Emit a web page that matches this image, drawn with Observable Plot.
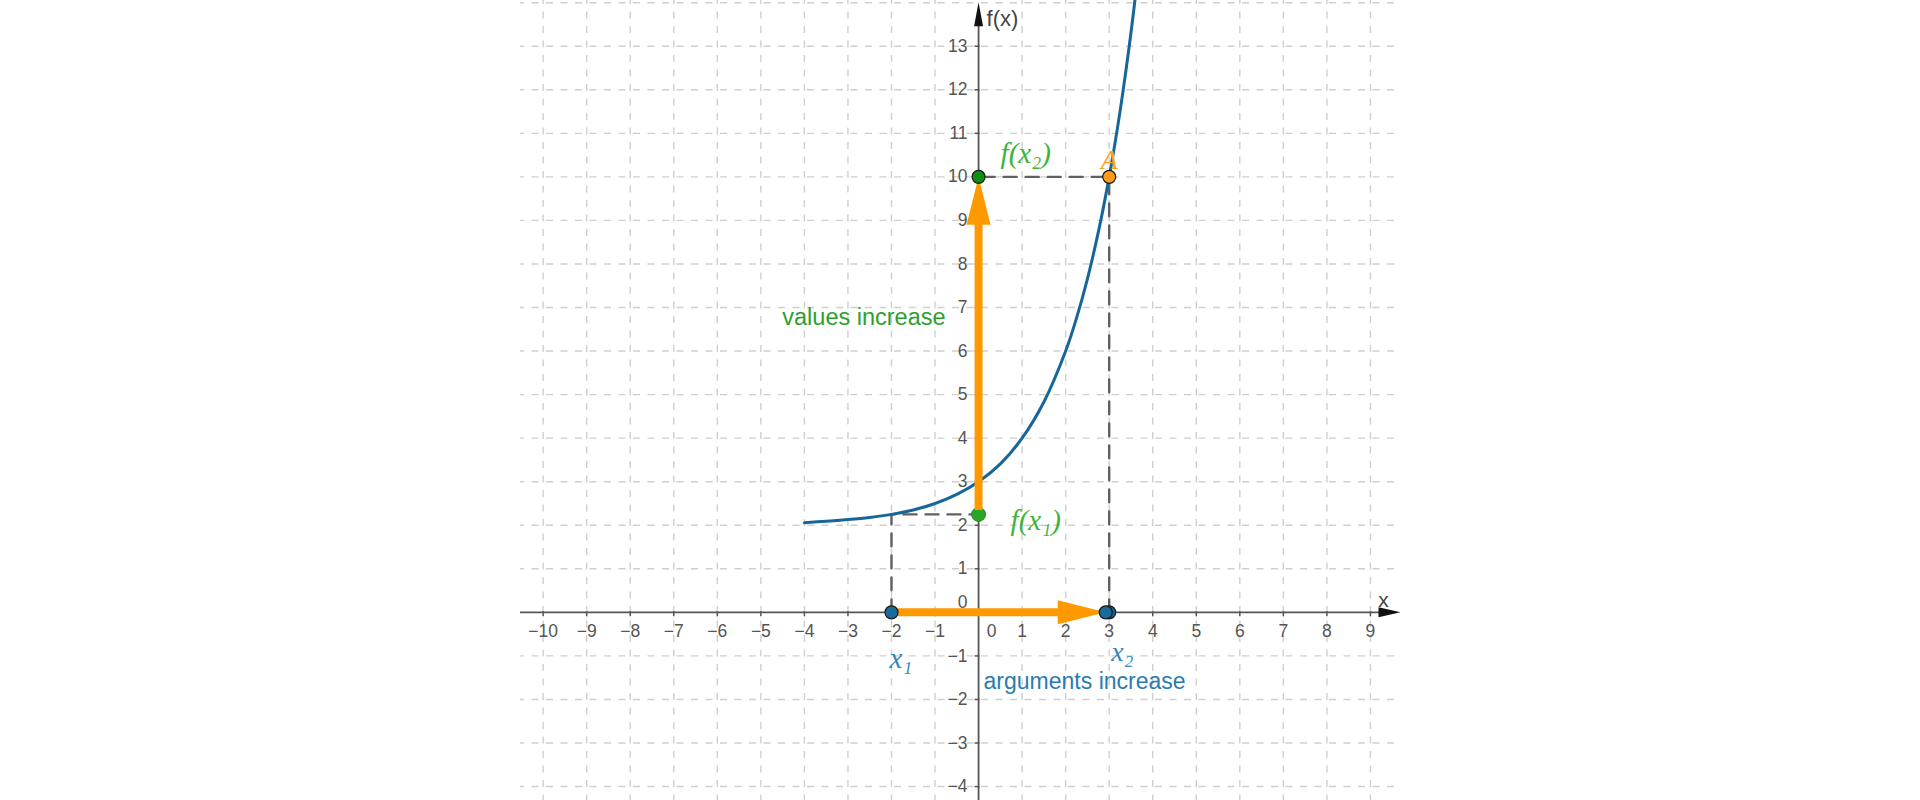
<!DOCTYPE html>
<html><head><meta charset="utf-8">
<script src="https://cdn.jsdelivr.net/npm/d3@7"></script>
<script src="https://cdn.jsdelivr.net/npm/@observablehq/plot@0.6"></script>
<style>html,body{margin:0;padding:0;background:#fff;overflow:hidden}#chart svg{display:block}</style>
</head><body><div id="chart"></div>
<script>
// ---- data ----
const xTicks = [-10,-9,-8,-7,-6,-5,-4,-3,-2,-1,0,1,2,3,4,5,6,7,8,9];
const yTicks = [-4,-3,-2,-1,0,1,2,3,4,5,6,7,8,9,10,11,12,13];
const yGrid = [-4,-3,-2,-1,1,2,3,4,5,6,7,8,9,10,11,12,13,14];
const xGrid = [-10,-9,-8,-7,-6,-5,-4,-3,-2,-1,1,2,3,4,5,6,7,8,9];
const curveX = [-4,-3.5,-3,-2.5,-2,-1.5,-1,-0.5,0,0.5,1,1.5,2,2.25,2.5,2.75,3,3.25,3.5,3.7];
const curveY = [2.06,2.09,2.13,2.18,2.25,2.35,2.5,2.71,3,3.41,4,4.83,6,6.76,7.66,8.73,10,11.51,13.31,15];
const argX = [-2, 2.92];          // x1, x2
const projX = [3];                // projection of A on the x axis
const valY = [2.25, 10];          // f(x1), f(x2)
const pointA = [{x: 3, y: 10}];
const xDomain = [-10.52, 9.69];
const yDomain = [-4.32, 14.05];

const curve = curveX.map((x, i) => ({x, y: curveY[i]}));
const minus = d => d < 0 ? "\u2212" + (-d) : String(d);

// arrowheads: tip at origin
const headRight = {draw(c){c.moveTo(0,0);c.lineTo(-48,-12);c.lineTo(-48,12);c.closePath();}};
const headUp = {draw(c){c.moveTo(0,0);c.lineTo(-12,48);c.lineTo(12,48);c.closePath();}};
const axisRight = {draw(c){c.moveTo(0,0);c.lineTo(-22,-5);c.lineTo(-22,5);c.closePath();}};
const axisUp = {draw(c){c.moveTo(0,0);c.lineTo(-4.5,24);c.lineTo(4.5,24);c.closePath();}};
const tickDown = {draw(c){c.moveTo(0,-1);c.lineTo(0,4);}};
const tickLeft = {draw(c){c.moveTo(1,0);c.lineTo(-4,0);}};

const orange = "#ff9900", blue = "#16669a";
const sans = "Liberation Sans, Arial, sans-serif";
const serif = "Liberation Serif, Times New Roman, serif";

const chart = Plot.plot({
  width: 1920, height: 800,
  marginLeft: 520, marginRight: 520, marginTop: 0, marginBottom: 0,
  x: {domain: xDomain, axis: null},
  y: {domain: yDomain, axis: null},
  style: {fontFamily: sans, background: "white"},
  marks: [
    // grid
    Plot.ruleX(xGrid, {stroke: "#cfcfcf", strokeWidth: 1.4, strokeDasharray: "7,7.5", strokeDashoffset: 3}),
    Plot.ruleY(yGrid, {stroke: "#cfcfcf", strokeWidth: 1.4, strokeDasharray: "7,7.5", strokeDashoffset: 3}),
    // axes
    Plot.ruleY([0], {x1: xDomain[0], x2: xDomain[1] - 0.3, stroke: "#555", strokeWidth: 1.8}),
    Plot.ruleX([0], {y1: yDomain[0], y2: yDomain[1] - 0.3, stroke: "#555", strokeWidth: 1.8}),
    Plot.dot([0], {x: xDomain[1], y: 0, symbol: axisRight, fill: "#111", stroke: null}),
    Plot.dot([0], {x: 0, y: yDomain[1] - 0.04, symbol: axisUp, fill: "#111", stroke: null}),
    Plot.dot(xTicks.filter(d => d !== 0), {x: d => d, y: 0, symbol: tickDown, fill: "none", stroke: "#555", strokeWidth: 1.5}),
    Plot.dot(yTicks.filter(d => d !== 0), {x: 0, y: d => d, symbol: tickLeft, fill: "none", stroke: "#555", strokeWidth: 1.5}),
    // tick labels
    Plot.text(xTicks.filter(d => d !== 0), {x: d => d, y: 0, dy: 19, text: minus, fill: "#555", fontSize: 17.5}),
    Plot.text([0], {x: 0, y: 0, dx: 13, dy: 19, text: d => "0", fill: "#555", fontSize: 17.5}),
    Plot.text(yTicks.filter(d => d !== 0), {x: 0, y: d => d, dx: -11, textAnchor: "end", text: minus, fill: "#555", fontSize: 17.5}),
    Plot.text([0], {x: 0, y: 0, dx: -11, dy: -10, textAnchor: "end", text: d => "0", fill: "#555", fontSize: 17.5}),
    Plot.text(["f(x)"], {x: 0, y: yDomain[1], dx: 8, dy: 18, textAnchor: "start", text: d => d, fill: "#444", fontSize: 22}),
    Plot.text(["x"], {x: xDomain[1], y: 0, dx: -17, dy: -12, text: d => d, fill: "#444", fontSize: 21}),
    // dashed helper lines
    Plot.line([{x: argX[0], y: 0}, {x: argX[0], y: valY[0]}, {x: 0, y: valY[0]}], {x: "x", y: "y", stroke: "#606060", strokeWidth: 2.4, strokeDasharray: "13,9"}),
    Plot.line([{x: projX[0], y: 0}, {x: pointA[0].x, y: pointA[0].y}, {x: 0, y: valY[1]}], {x: "x", y: "y", stroke: "#606060", strokeWidth: 2.4, strokeDasharray: "13,9"}),
    // function curve
    Plot.line(curve, {x: "x", y: "y", stroke: blue, strokeWidth: 3, curve: "catmull-rom", clip: true}),
    // f(x1) point below the arrow
    Plot.dot([valY[0]], {x: 0, y: d => d, r: 7, fill: "#2aa52a", stroke: "#1b8a1b", strokeWidth: 1}),
    // arrows
    Plot.link([0], {x1: argX[0], y1: 0, x2: argX[1] - 1.0, y2: 0, stroke: orange, strokeWidth: 8}),
    Plot.dot([0], {x: argX[1], y: 0, symbol: headRight, fill: orange, stroke: null}),
    Plot.link([0], {x1: 0, y1: valY[0] + 0.1, x2: 0, y2: valY[1] - 1.0, stroke: orange, strokeWidth: 8}),
    Plot.dot([0], {x: 0, y: valY[1], symbol: headUp, fill: orange, stroke: null}),
    // points
    Plot.dot(projX, {x: d => d, y: 0, r: 6.5, fill: "#155f8e", stroke: "#1a1a1a", strokeWidth: 1.2}),
    Plot.dot(argX, {x: d => d, y: 0, r: 6.5, fill: "#1a6a9c", stroke: "#1a1a1a", strokeWidth: 1.2}),
    Plot.dot([valY[1]], {x: 0, y: d => d, r: 6.5, fill: "#0f8f0f", stroke: "#1a1a1a", strokeWidth: 1.2}),
    Plot.dot(pointA, {x: "x", y: "y", r: 6.5, fill: "#ff9c1a", stroke: "#1a1a1a", strokeWidth: 1.2}),
    // labels
    Plot.text(["values increase"], {x: 0, y: 6.77, dx: -33, textAnchor: "end", text: d => d, fill: "#2ea02e", fontSize: 23.5}),
    Plot.text(["arguments increase"], {x: 0, y: -1.6, dx: 5, textAnchor: "start", text: d => d, fill: "#2b7bb0", fontSize: 23}),
    Plot.text(["f(x\u2082)"], {x: 0, y: 10.53, dx: 22, textAnchor: "start", text: d => d, fill: "#3cb43c", fontSize: 29, fontStyle: "italic", fontFamily: serif}),
    Plot.text(["f(x\u2081)"], {x: 0, y: 2.1, dx: 32, textAnchor: "start", text: d => d, fill: "#3cb43c", fontSize: 29, fontStyle: "italic", fontFamily: serif}),
    Plot.text(["A"], {x: 3, y: 10.39, text: d => d, fill: "#ffa21f", fontSize: 28, fontStyle: "italic", fontFamily: serif}),
    Plot.text(["x\u2081"], {x: argX[0], y: -1.06, dx: -2, textAnchor: "start", text: d => d, fill: "#3a86ba", fontSize: 29, fontStyle: "italic", fontFamily: serif}),
    Plot.text(["x\u2082"], {x: projX[0], y: -0.9, dx: 2, textAnchor: "start", text: d => d, fill: "#3a86ba", fontSize: 28, fontStyle: "italic", fontFamily: serif})
  ]
});
document.getElementById("chart").append(chart);
</script>
</body></html>
